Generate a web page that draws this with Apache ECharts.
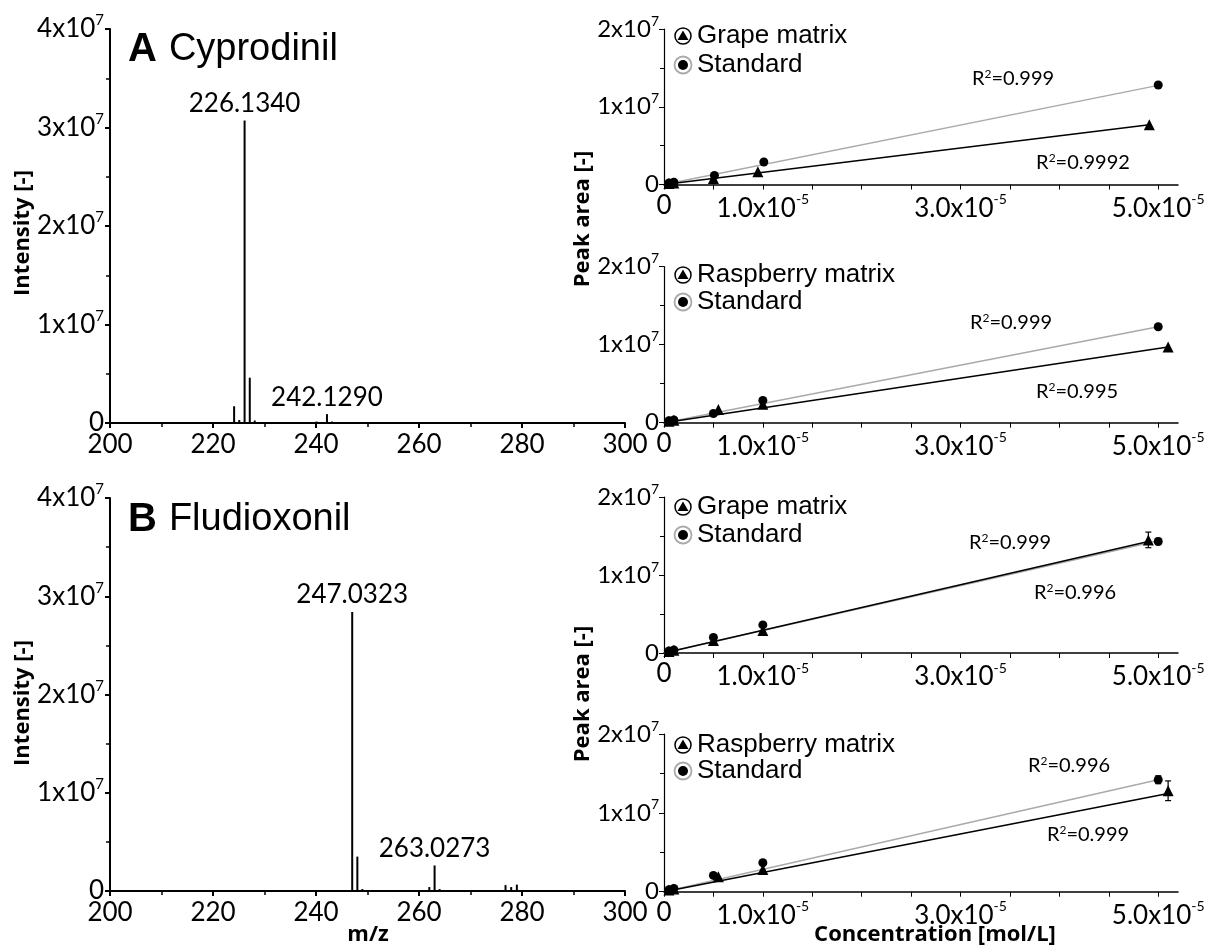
<!DOCTYPE html>
<html><head><meta charset="utf-8">
<script src="https://cdn.jsdelivr.net/npm/echarts@6/dist/echarts.min.js"></script>
<style>html,body{margin:0;padding:0;background:#fff}#c{width:1221px;height:947px}</style>
</head><body><div id="c"></div>
<script>
// ---------- DATA ----------
// Mass spectra (m/z, intensity)
const cypMz     = [224.1, 225.1, 226.134, 227.14, 228.1, 240.1, 242.129, 243.1, 256.1, 258.0];
const cypInt    = [0.17e7, 0.03e7, 3.07e7, 0.46e7, 0.025e7, 0.015e7, 0.09e7, 0.015e7, 0.005e7, 0.005e7];
const cypLabels = ['', '', '226.1340', '', '', '', '242.1290', '', '', ''];
const fluMz     = [247.032, 248.03, 249.0, 251.8, 262.0, 263.027, 264.0, 264.7, 276.8, 277.9, 279.0, 292.7, 294.9];
const fluInt    = [2.84e7, 0.35e7, 0.02e7, 0.01e7, 0.04e7, 0.26e7, 0.02e7, 0.01e7, 0.06e7, 0.04e7, 0.065e7, 0.01e7, 0.01e7];
const fluLabels = ['247.0323', '', '', '', '', '263.0273', '', '', '', '', '', '', ''];
const mzTicks   = [200, 220, 240, 260, 280, 300];
const intTicks  = [0, 1e7, 2e7, 3e7, 4e7];

// Calibration panels
const concTicks  = [0, 5e-6, 1e-5, 1.5e-5, 2e-5, 2.5e-5, 3e-5, 3.5e-5, 4e-5, 4.5e-5, 5e-5];
const concLabels = [0, 1e-5, 3e-5, 5e-5];
const areaTicks  = [0, 1e7, 2e7];

// Panel 1: Cyprodinil, grape matrix
const p1StdX = [0.5e-6, 1e-6, 5.1e-6, 1.01e-5, 5.0e-5];
const p1StdY = [0.02e7, 0.03e7, 0.116e7, 0.29e7, 1.28e7];
const p1StdE = [0, 0, 0, 0, 0];
const p1MatX = [0.5e-6, 1e-6, 5.0e-6, 0.95e-5, 4.91e-5];
const p1MatY = [0.013e7, 0.02e7, 0.077e7, 0.163e7, 0.77e7];
const p1MatE = [0, 0, 0, 0, 0];
const p1StdFitX = [0, 5.0e-5],  p1StdFitY = [0, 1.275e7];
const p1MatFitX = [0, 4.91e-5], p1MatFitY = [0, 0.77e7];
const p1R2 = ['0.999', '0.9992'];

// Panel 2: Cyprodinil, raspberry matrix
const p2StdX = [0.5e-6, 1e-6, 5.0e-6, 1.0e-5, 5.0e-5];
const p2StdY = [0.025e7, 0.035e7, 0.118e7, 0.286e7, 1.23e7];
const p2StdE = [0, 0, 0, 0, 0];
const p2MatX = [0.5e-6, 1e-6, 5.5e-6, 1.0e-5, 5.1e-5];
const p2MatY = [0.02e7, 0.03e7, 0.168e7, 0.235e7, 0.97e7];
const p2MatE = [0, 0, 0, 0, 0];
const p2StdFitX = [0, 5.0e-5], p2StdFitY = [0, 1.23e7];
const p2MatFitX = [0, 5.1e-5], p2MatFitY = [0, 0.97e7];
const p2R2 = ['0.999', '0.995'];

// Panel 3: Fludioxonil, grape matrix
const p3StdX = [0.5e-6, 1e-6, 5e-6, 1e-5, 5e-5];
const p3StdY = [0.026e7, 0.04e7, 0.2e7, 0.36e7, 1.43e7];
const p3StdE = [0, 0, 0, 0, 0.04e7];
const p3MatX = [0.5e-6, 1e-6, 5e-6, 1e-5, 4.9e-5];
const p3MatY = [0.02e7, 0.035e7, 0.16e7, 0.29e7, 1.45e7];
const p3MatE = [0, 0, 0, 0, 0.1e7];
const p3StdFitX = [0, 5.0e-5], p3StdFitY = [0, 1.44e7];
const p3MatFitX = [0, 4.9e-5], p3MatFitY = [0, 1.43e7];
const p3R2 = ['0.999', '0.996'];

// Panel 4: Fludioxonil, raspberry matrix
const p4StdX = [0.5e-6, 1e-6, 5e-6, 1e-5, 5e-5];
const p4StdY = [0.025e7, 0.04e7, 0.207e7, 0.367e7, 1.42e7];
const p4StdE = [0, 0, 0, 0, 0.05e7];
const p4MatX = [0.5e-6, 1e-6, 5.5e-6, 1e-5, 5.1e-5];
const p4MatY = [0.02e7, 0.035e7, 0.19e7, 0.283e7, 1.28e7];
const p4MatE = [0, 0, 0, 0, 0.125e7];
const p4StdFitX = [0, 5.0e-5], p4StdFitY = [0, 1.42e7];
const p4MatFitX = [0, 5.1e-5], p4MatFitY = [0, 1.245e7];
const p4R2 = ['0.996', '0.999'];

const panelNames = ['Grape matrix', 'Raspberry matrix', 'Grape matrix', 'Raspberry matrix'];
const titles = [['A', 'Cyprodinil'], ['B', 'Fludioxonil']];

// ---------- LAYOUT ----------
const chart = echarts.init(document.getElementById('c'));
const BLACK = '#000', GRAY = '#aaaaaa';
const TICKF = 'Lato';
const supRich = (big, small) => ({
  m: {fontFamily: TICKF, fontSize: big, color: BLACK, lineHeight: big + 6},
  s: {fontFamily: TICKF, fontSize: small, color: BLACK, verticalAlign: 'top', lineHeight: small}
});
const fmtInt  = v => v === 0 ? '0' : `{m|${Math.round(v / 1e7)}x10}{s|7}`;
const fmtConc = v => v === 0 ? '0' : `{m|${(v / 1e-5).toFixed(1)}x10}{s|-5}`;

const leftGrids = [{left: 110, width: 515, top: 29, height: 394}, {left: 110, width: 515, top: 498, height: 393}];
const rightGrids = [
  {left: 664, width: 514, top: 29, height: 155.5},
  {left: 664, width: 514, top: 266.7, height: 156},
  {left: 664, width: 514, top: 497, height: 156},
  {left: 664, width: 514, top: 734, height: 157.7}
];
const grids = leftGrids.concat(rightGrids);

const xAxes = [], yAxes = [];
leftGrids.forEach((g, i) => {
  xAxes.push({
    type: 'value', gridIndex: i, min: 200, max: 300, interval: 20,
    axisLine: {show: true, onZero: false, lineStyle: {color: BLACK, width: 2}},
    axisTick: {show: true, length: 5, lineStyle: {color: BLACK, width: 2}},
    minorTick: {show: true, splitNumber: 2, length: 4, lineStyle: {color: BLACK, width: 1.5}},
    splitLine: {show: false},
    axisLabel: {customValues: mzTicks, fontFamily: TICKF, fontSize: 26, color: BLACK, margin: 9, hideOverlap: false}
  });
  yAxes.push({
    type: 'value', gridIndex: i, min: 0, max: 4e7, interval: 1e7,
    axisLine: {show: true, lineStyle: {color: BLACK, width: 2}},
    axisTick: {show: true, length: 5, lineStyle: {color: BLACK, width: 2}},
    minorTick: {show: true, splitNumber: 2, length: 4, lineStyle: {color: BLACK, width: 1.5}},
    splitLine: {show: false},
    axisLabel: {customValues: intTicks, formatter: fmtInt, rich: supRich(26, 15), margin: 6, hideOverlap: false, fontFamily: TICKF, fontSize: 26, color: BLACK}
  });
});
rightGrids.forEach((g, j) => {
  const i = j + 2;
  xAxes.push({
    type: 'value', gridIndex: i, min: 0, max: 5.2e-5,
    axisLine: {show: true, onZero: false, lineStyle: {color: BLACK, width: 1.5}},
    axisTick: {show: true, customValues: concTicks, length: 5, lineStyle: {color: BLACK, width: 1}},
    splitLine: {show: false},
    axisLabel: {customValues: concLabels, formatter: fmtConc, rich: supRich(26, 14), margin: 8, hideOverlap: false, fontFamily: TICKF, fontSize: 26, color: BLACK}
  });
  yAxes.push({
    type: 'value', gridIndex: i, min: 0, max: 2e7, interval: 1e7,
    axisLine: {show: true, lineStyle: {color: BLACK, width: 1.2}},
    axisTick: {show: true, length: 5, lineStyle: {color: BLACK, width: 1}},
    minorTick: {show: true, splitNumber: 2, length: 4, lineStyle: {color: BLACK, width: 1}},
    splitLine: {show: false},
    axisLabel: {customValues: areaTicks, formatter: fmtInt, rich: supRich(24, 14), margin: 5, hideOverlap: false, fontFamily: TICKF, fontSize: 24, color: BLACK}
  });
});

const series = [];
function spectrum(idx, mz, inten, labels) {
  series.push({
    type: 'bar', xAxisIndex: idx, yAxisIndex: idx, barWidth: 2, silent: true,
    itemStyle: {color: BLACK, opacity: 1},
    data: mz.map((m, k) => ({
      value: [m, inten[k]],
      label: labels[k] ? {show: true, position: 'top', distance: 4, formatter: labels[k], fontFamily: TICKF, fontSize: 26, color: BLACK} : {show: false}
    }))
  });
}
spectrum(0, cypMz, cypInt, cypLabels);
spectrum(1, fluMz, fluInt, fluLabels);

const zip = (a, b) => a.map((v, k) => [v, b[k]]);
const zip3 = (a, b, c) => a.map((v, k) => [v, b[k], c[k]]);
function errBars(idx, x, y, e) {
  series.push({
    type: 'custom', xAxisIndex: idx, yAxisIndex: idx, silent: true, z: 4,
    data: zip3(x, y, e).filter(d => d[2] > 0),
    renderItem: (params, api) => {
      const xv = api.value(0), yv = api.value(1), ev = api.value(2);
      const t = api.coord([xv, yv + ev]), b = api.coord([xv, yv - ev]);
      const st = {stroke: BLACK, lineWidth: 1.2};
      return {type: 'group', children: [
        {type: 'line', shape: {x1: t[0], y1: t[1], x2: b[0], y2: b[1]}, style: st},
        {type: 'line', shape: {x1: t[0] - 3, y1: t[1], x2: t[0] + 3, y2: t[1]}, style: st},
        {type: 'line', shape: {x1: b[0] - 3, y1: b[1], x2: b[0] + 3, y2: b[1]}, style: st}
      ]};
    }
  });
}
function calib(idx, sX, sY, sE, mX, mY, mE, sfX, sfY, mfX, mfY) {
  series.push({type: 'line', xAxisIndex: idx, yAxisIndex: idx, data: zip(sfX, sfY), symbol: 'none', silent: true, z: 2,
    lineStyle: {color: GRAY, width: 1.5}});
  series.push({type: 'line', xAxisIndex: idx, yAxisIndex: idx, data: zip(mfX, mfY), symbol: 'none', silent: true, z: 2,
    lineStyle: {color: BLACK, width: 1.5}});
  errBars(idx, sX, sY, sE);
  errBars(idx, mX, mY, mE);
  series.push({type: 'scatter', xAxisIndex: idx, yAxisIndex: idx, data: zip(sX, sY), symbol: 'circle', symbolSize: 9, silent: true, z: 5,
    itemStyle: {color: BLACK, opacity: 1}});
  series.push({type: 'scatter', xAxisIndex: idx, yAxisIndex: idx, data: zip(mX, mY), symbol: 'triangle', symbolSize: 11, silent: true, z: 5,
    itemStyle: {color: BLACK, opacity: 1}});
}
calib(2, p1StdX, p1StdY, p1StdE, p1MatX, p1MatY, p1MatE, p1StdFitX, p1StdFitY, p1MatFitX, p1MatFitY);
calib(3, p2StdX, p2StdY, p2StdE, p2MatX, p2MatY, p2MatE, p2StdFitX, p2StdFitY, p2MatFitX, p2MatFitY);
calib(4, p3StdX, p3StdY, p3StdE, p3MatX, p3MatY, p3MatE, p3StdFitX, p3StdFitY, p3MatFitX, p3MatFitY);
calib(5, p4StdX, p4StdY, p4StdE, p4MatX, p4MatY, p4MatE, p4StdFitX, p4StdFitY, p4MatFitX, p4MatFitY);

// ---------- GRAPHICS (titles, legends, axis names, R² notes) ----------
const graphic = [];
const LEGF = 'Liberation Sans';
const titleY = [50, 520];
titles.forEach((t, i) => {
  graphic.push({type: 'text', x: 128, y: titleY[i], style: {
    text: `{a|${t[0]}}{b|${t[1]}}`, verticalAlign: 'middle',
    rich: {a: {fontFamily: LEGF, fontWeight: 'bold', fontSize: 40, fill: BLACK, padding: [0, 12, 0, 0]}, b: {fontFamily: LEGF, fontSize: 38, fill: BLACK}}
  }});
});
const legendRows = [[36, 65], [275, 302], [507, 535], [745, 771]];
legendRows.forEach((r, i) => {
  const cx = 683;
  graphic.push({type: 'circle', shape: {cx: cx, cy: r[0], r: 8}, style: {fill: '#fff', stroke: BLACK, lineWidth: 1.5}});
  graphic.push({type: 'polygon', shape: {points: [[cx, r[0] - 5.5], [cx + 5.5, r[0] + 4], [cx - 5.5, r[0] + 4]]}, style: {fill: BLACK}});
  graphic.push({type: 'text', x: 697, y: r[0], style: {text: panelNames[i], fontFamily: LEGF, fontSize: 26, fill: BLACK, verticalAlign: 'middle'}});
  graphic.push({type: 'circle', shape: {cx: cx, cy: r[1], r: 8.5}, style: {fill: '#fff', stroke: GRAY, lineWidth: 1.8}});
  graphic.push({type: 'circle', shape: {cx: cx, cy: r[1], r: 5}, style: {fill: BLACK}});
  graphic.push({type: 'text', x: 697, y: r[1], style: {text: 'Standard', fontFamily: LEGF, fontSize: 26, fill: BLACK, verticalAlign: 'middle'}});
});
const r2Pos = [[[1013, 79], [1083, 163]], [[1011, 323], [1077, 392]], [[1010, 543], [1075, 593]], [[1069, 766], [1088, 835]]];
const r2Vals = [p1R2, p2R2, p3R2, p4R2];
r2Pos.forEach((pp, i) => pp.forEach((p, k) => {
  graphic.push({type: 'text', x: p[0], y: p[1], style: {
    text: `{r|R}{s|2}{r|=${r2Vals[i][k]}}`, align: 'center', verticalAlign: 'middle',
    rich: {r: {fontFamily: TICKF, fontSize: 20, fill: BLACK, lineHeight: 22}, s: {fontFamily: TICKF, fontSize: 12, fill: BLACK, verticalAlign: 'top', lineHeight: 11}}
  }});
}));
const NAMEF = {fontFamily: 'Open Sans', fontWeight: 'bold', fontSize: 22, fill: BLACK, align: 'center', verticalAlign: 'middle'};
[[23, 233, 'Intensity [-]'], [23, 703, 'Intensity [-]'], [583, 219, 'Peak area [-]'], [583, 694, 'Peak area [-]']].forEach(a => {
  graphic.push({type: 'text', x: a[0], y: a[1], rotation: Math.PI / 2, style: Object.assign({text: a[2]}, NAMEF)});
});
graphic.push({type: 'text', x: 368, y: 935, style: Object.assign({text: 'm/z'}, NAMEF)});
graphic.push({type: 'text', x: 935, y: 935, style: Object.assign({text: 'Concentration [mol/L]'}, NAMEF)});

chart.setOption({
  animation: false,
  backgroundColor: '#fff',
  grid: grids,
  xAxis: xAxes,
  yAxis: yAxes,
  series: series,
  graphic: graphic
});
</script></body></html>
